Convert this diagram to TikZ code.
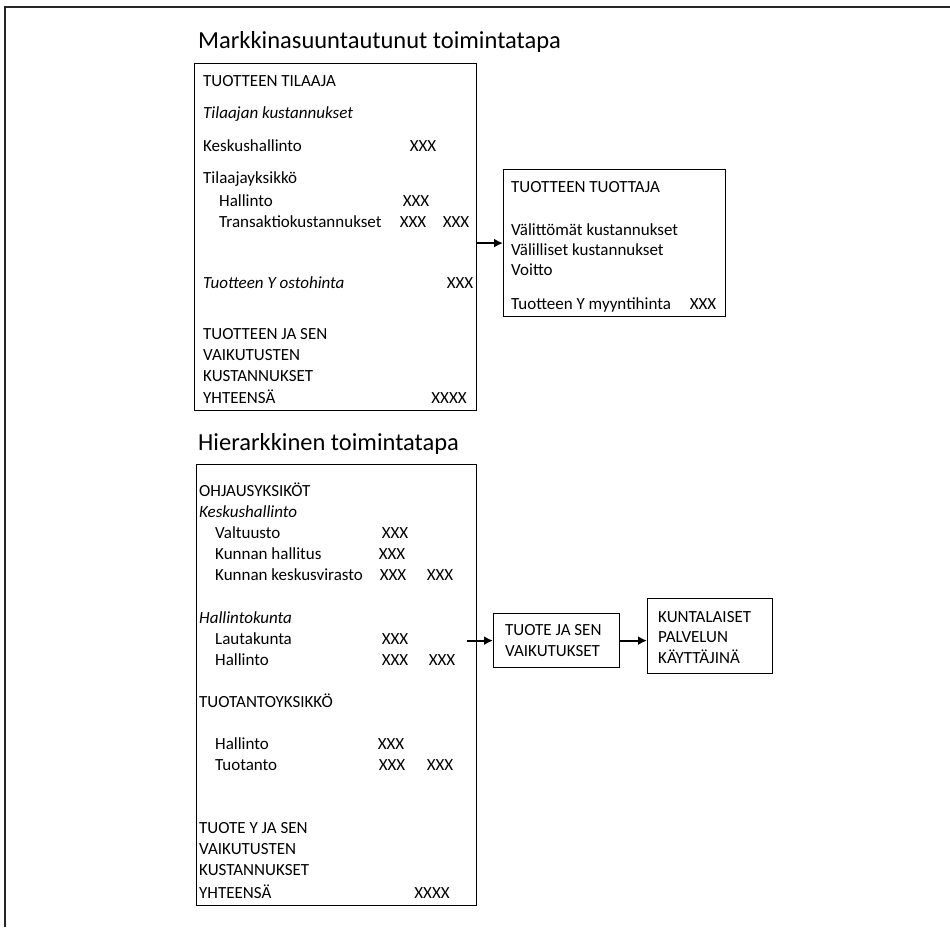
\documentclass[tikz,border=0pt]{standalone}
\usepackage{fontspec}
\setmainfont{Carlito}
\usetikzlibrary{arrows.meta}

\begin{document}
\begin{tikzpicture}[x=1pt,y=-1pt,
  box/.style={draw=black,line width=1.2pt,inner sep=0pt},
  txt/.style={anchor=base west,inner sep=0pt,font=\fontsize{17}{20}\selectfont},
  itx/.style={anchor=base west,inner sep=0pt,font=\fontsize{17}{20}\selectfont\itshape},
  num/.style={anchor=base,inner sep=0pt,font=\fontsize{17}{20}\selectfont},
  ttl/.style={anchor=base west,inner sep=0pt,font=\fontsize{24.5}{28}\selectfont},
  arr/.style={-{Latex[length=9pt,width=9pt]},line width=2.2pt},
  frameline/.style={draw=black!85,line width=1.4pt}]

\useasboundingbox (0,0) rectangle (950,927);

% page frame
\draw[frameline] (5,927) -- (5,7) -- (950,7);

% ---------- market-oriented model ----------
\node[ttl] (t1) at (198,48) {Markkinasuuntautunut toimintatapa};

\node[box,anchor=north west,minimum width=282pt,minimum height=347pt] (b1) at (194,63) {};
\node[txt] (b1a) at (203,86) {TUOTTEEN TILAAJA};
\node[itx] (b1b) at (203,118.5) {Tilaajan kustannukset};
\node[txt] (b1c) at (203,151.5) {Keskushallinto};
\node[num] (b1cx) at (423,151.5) {XXX};
\node[txt] (b1d) at (203,183.5) {Tilaajayksikkö};
\node[txt] (b1e) at (219,206.5) {Hallinto};
\node[num] (b1ex) at (416,206.5) {XXX};
\node[txt] (b1f) at (219,227.5) {Transaktiokustannukset};
\node[num] (b1fx) at (413,227.5) {XXX};
\node[num] (b1fy) at (456,227.5) {XXX};
\node[itx] (b1g) at (203,288.5) {Tuotteen Y ostohinta};
\node[num] (b1gx) at (460,288.5) {XXX};
\node[txt] (b1h) at (203,339.5) {TUOTTEEN JA SEN};
\node[txt] (b1i) at (203,360.5) {VAIKUTUSTEN};
\node[txt] (b1j) at (203,381.5) {KUSTANNUKSET};
\node[txt] (b1k) at (203,403) {YHTEENSÄ};
\node[num] (b1kx) at (449,403) {XXXX};

\node[box,anchor=north west,minimum width=222pt,minimum height=147pt] (b2) at (503,169) {};
\node[txt] (b2a) at (511,192) {TUOTTEEN TUOTTAJA};
\node[txt] (b2b) at (511,235) {Välittömät kustannukset};
\node[txt] (b2c) at (511,255) {Välilliset kustannukset};
\node[txt] (b2d) at (511,275) {Voitto};
\node[txt] (b2e) at (511,309) {Tuotteen Y myyntihinta};
\node[num] (b2ex) at (703,309) {XXX};

\draw[arr] (b1.east |- b2.west) -- (b2.west);

% ---------- hierarchical model ----------
\node[ttl] (t2) at (198,450) {Hierarkkinen toimintatapa};

\node[box,anchor=north west,minimum width=280pt,minimum height=441pt] (b3) at (196,464) {};
\node[txt] (b3a) at (199,496) {OHJAUSYKSIKÖT};
\node[itx] (b3b) at (199,517) {Keskushallinto};
\node[txt] (b3c) at (215,538.5) {Valtuusto};
\node[num] (b3cx) at (395,538.5) {XXX};
\node[txt] (b3d) at (215,559.5) {Kunnan hallitus};
\node[num] (b3dx) at (392,559.5) {XXX};
\node[txt] (b3e) at (215,580.5) {Kunnan keskusvirasto};
\node[num] (b3ex) at (393,580.5) {XXX};
\node[num] (b3ey) at (440,580.5) {XXX};
\node[itx] (b3f) at (199,623) {Hallintokunta};
\node[txt] (b3g) at (215,644.5) {Lautakunta};
\node[num] (b3gx) at (395,644.5) {XXX};
\node[txt] (b3h) at (215,665.5) {Hallinto};
\node[num] (b3hx) at (395,665.5) {XXX};
\node[num] (b3hy) at (442,665.5) {XXX};
\node[txt] (b3i) at (199,707.5) {TUOTANTOYKSIKKÖ};
\node[txt] (b3j) at (215,749.5) {Hallinto};
\node[num] (b3jx) at (391,749.5) {XXX};
\node[txt] (b3k) at (215,770.5) {Tuotanto};
\node[num] (b3kx) at (392,770.5) {XXX};
\node[num] (b3ky) at (440,770.5) {XXX};
\node[txt] (b3l) at (199,833.5) {TUOTE Y JA SEN};
\node[txt] (b3m) at (199,854.5) {VAIKUTUSTEN};
\node[txt] (b3n) at (199,875.5) {KUSTANNUKSET};
\node[txt] (b3o) at (199,898) {YHTEENSÄ};
\node[num] (b3ox) at (432,898) {XXXX};

\node[box,anchor=north west,minimum width=126pt,minimum height=54pt] (b4) at (493,613) {};
\node[txt] (b4a) at (505,635.5) {TUOTE JA SEN};
\node[txt] (b4b) at (505,656) {VAIKUTUKSET};

\node[box,anchor=north west,minimum width=125pt,minimum height=75pt] (b5) at (647,598) {};
\node[txt] (b5a) at (658,622) {KUNTALAISET};
\node[txt] (b5b) at (658,642) {PALVELUN};
\node[txt] (b5c) at (658,663.5) {KÄYTTÄJINÄ};

\path (b3.east |- b4.west) ++(-10,0) coordinate (a2s);
\draw[arr] (a2s) -- (b4.west);
\draw[arr] (b4.east) -- (b4.east -| b5.west);
\end{tikzpicture}
\end{document}
